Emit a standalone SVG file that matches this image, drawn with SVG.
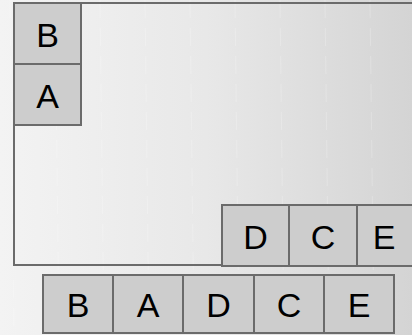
<svg xmlns="http://www.w3.org/2000/svg" width="412" height="335" viewBox="0 0 412 335">
<style>
.box{fill:#cdcdcd;stroke:#6b6b6b;stroke-width:2}
.lbl{font-family:"Liberation Sans",Arial,sans-serif;font-size:34px;fill:#000;text-anchor:middle}
.frame{fill:none;stroke:#6b6b6b;stroke-width:2}
</style>
<defs>
<linearGradient id="bg" x1="0" y1="0" x2="1" y2="0">
<stop offset="0" stop-color="#f3f3f3"/>
<stop offset="0.5" stop-color="#e8e8e8"/>
<stop offset="1" stop-color="#d4d4d4"/>
</linearGradient>
<pattern id="streak" width="45" height="335" patternUnits="userSpaceOnUse">
<line x1="10" y1="0" x2="14" y2="335" stroke="#ffffff" stroke-opacity="0.2" stroke-width="1" stroke-dasharray="18 10"/>
</pattern>
</defs>
<rect x="0" y="0" width="412" height="335" fill="url(#bg)"/>
<rect x="0" y="0" width="412" height="335" fill="url(#streak)"/>
<g id="container">
<rect class="frame" x="14" y="3" width="420" height="262"/>
</g>
<g id="connectors"></g>
<g id="node-B-top"><rect class="box" x="14" y="3" width="67" height="61"/><text class="lbl" x="47.5" y="46.5">B</text></g>
<g id="node-A-top"><rect class="box" x="14" y="64" width="67" height="61"/><text class="lbl" x="47.5" y="107.5">A</text></g>
<g id="node-D-mid"><rect class="box" x="222" y="205" width="67" height="61"/><text class="lbl" x="255.5" y="248.5">D</text></g>
<g id="node-C-mid"><rect class="box" x="289" y="205" width="68" height="61"/><text class="lbl" x="323" y="248.5">C</text></g>
<g id="node-E-mid"><rect class="box" x="357" y="205" width="68" height="61"/><text class="lbl" x="384" y="248.5">E</text></g>
<g id="node-B-bot"><rect class="box" x="43" y="275" width="70" height="58"/><text class="lbl" x="78" y="316.5">B</text></g>
<g id="node-A-bot"><rect class="box" x="113" y="275" width="70" height="58"/><text class="lbl" x="148" y="316.5">A</text></g>
<g id="node-D-bot"><rect class="box" x="183" y="275" width="71" height="58"/><text class="lbl" x="218.5" y="316.5">D</text></g>
<g id="node-C-bot"><rect class="box" x="254" y="275" width="70" height="58"/><text class="lbl" x="289" y="316.5">C</text></g>
<g id="node-E-bot"><rect class="box" x="324" y="275" width="70" height="58"/><text class="lbl" x="359" y="316.5">E</text></g>
</svg>
